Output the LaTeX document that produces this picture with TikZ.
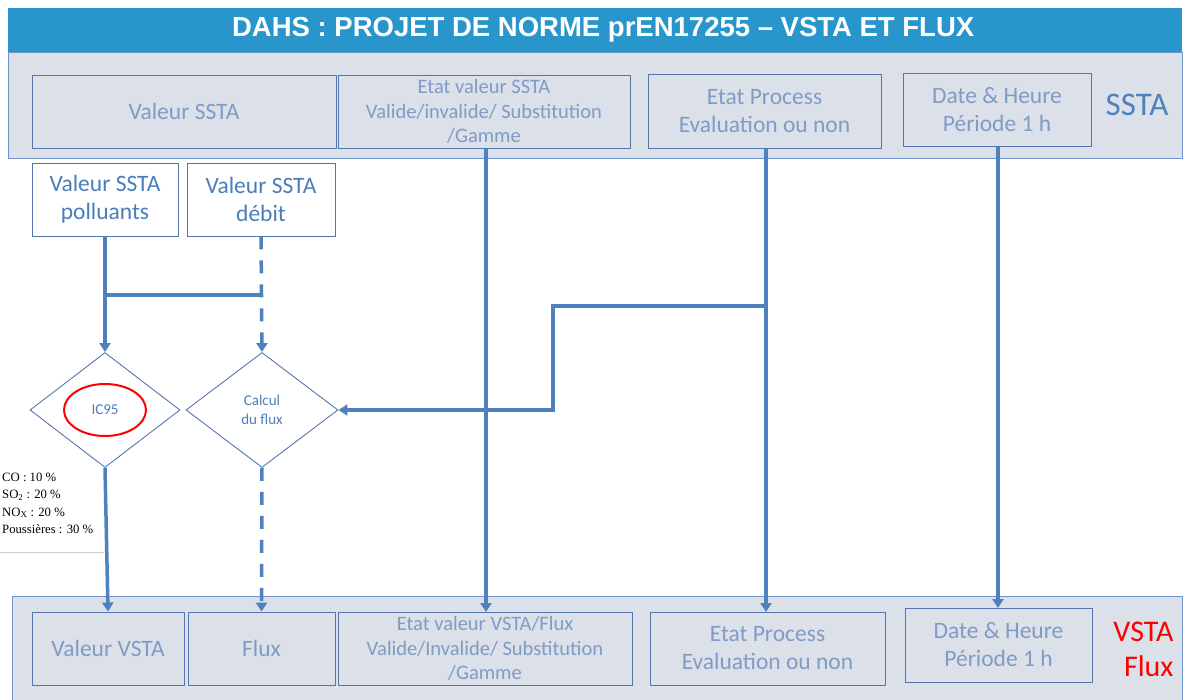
\documentclass[tikz,border=0pt]{standalone}
\usepackage{fontspec}
\setmainfont{Carlito}
\newfontfamily\titlefont{Liberation Sans}
\newfontfamily\serifnote{Liberation Serif}
\usetikzlibrary{shapes.geometric,arrows.meta}
\definecolor{titlebg}{HTML}{2895CB}
\definecolor{panelbg}{HTML}{DCE0E8}
\definecolor{panelline}{HTML}{6F93C7}
\definecolor{boxline}{HTML}{5576AC}
\definecolor{graytext}{HTML}{7F9BC6}
\definecolor{bluetext}{HTML}{4A7EBB}
\definecolor{flow}{HTML}{4F81BD}
\definecolor{sstacol}{HTML}{4F81BD}
\tikzset{
  panel/.style={draw=panelline, fill=panelbg, line width=1pt},
  graybox/.style={draw=boxline, line width=0.9pt, fill=panelbg, text=graytext, align=center, inner sep=0pt, font=\fontsize{23.5}{28}\selectfont},
  whitebox/.style={draw=boxline, line width=0.9pt, fill=white, text=bluetext, align=center, inner sep=0pt, font=\fontsize{23.5}{28}\selectfont},
  dia/.style={draw=boxline, line width=0.9pt, shape=diamond, inner sep=0pt, text=bluetext, align=center},
  flowline/.style={draw=flow, line width=3.5pt},
  arr/.style={-{Triangle[width=11pt,length=9pt]}},
  dashflow/.style={flowline, dash pattern=on 13pt off 11pt},
}
\begin{document}
\begin{tikzpicture}[x=1pt,y=-1pt]
\useasboundingbox (0,0) rectangle (1184,700);
% title bar
\node[fill=titlebg, minimum width=1174pt, minimum height=44pt, inner sep=0pt, anchor=north west, text=white,
  font=\titlefont\bfseries\fontsize{27.5}{30}\selectfont] (title) at (8,8) {\hspace*{16pt}DAHS : PROJET DE NORME prEN17255 – VSTA ET FLUX};
% top panel
\node[panel, minimum width=1174pt, minimum height=106pt, inner sep=0pt, anchor=north west] (toppanel) at (8,52) {};
\node[graybox, minimum width=304pt, minimum height=73pt] (vs) at (184,111.5) {Valeur SSTA};
\node[graybox, minimum width=292pt, minimum height=73pt, font=\fontsize{20.5}{24.5}\selectfont] (es) at (484,111.5) {Etat valeur SSTA\\Valide/invalide/ Substitution\\/Gamme};
\node[graybox, minimum width=233pt, minimum height=74pt] (ep) at (764.5,111) {Etat Process\\Evaluation ou non};
\node[graybox, minimum width=188pt, minimum height=73pt] (dh) at (997,109.5) {Date \& Heure\\Période 1 h};
\node[text=sstacol, font=\fontsize{33}{36}\selectfont] (sstalbl) at (1137,105) {SSTA};
% bottom panel
\node[panel, minimum width=1170pt, minimum height=106pt, inner sep=0pt, anchor=north west] (botpanel) at (12,596) {};
\node[graybox, minimum width=152pt, minimum height=73pt] (vv) at (108,648.5) {Valeur VSTA};
\node[graybox, minimum width=147pt, minimum height=73pt] (fx) at (261.5,648.5) {Flux};
\node[graybox, minimum width=294pt, minimum height=73pt, font=\fontsize{20.5}{24.5}\selectfont] (ev) at (485,648.5) {Etat valeur VSTA/Flux\\Valide/Invalide/ Substitution\\/Gamme};
\node[graybox, minimum width=235pt, minimum height=73pt] (ep2) at (767.5,648.5) {Etat Process\\Evaluation ou non};
\node[graybox, minimum width=187pt, minimum height=74pt] (dh2) at (998.5,645) {Date \& Heure\\Période 1 h};
\node[text=red, font=\fontsize{30}{35}\selectfont, align=right, anchor=east] (vstalbl) at (1177,649) {VSTA\\Flux};
% input boxes
\node[whitebox, minimum width=146pt, minimum height=73pt] (pol) at (105,199.5) {Valeur SSTA\\polluants};
\node[whitebox, minimum width=148pt, minimum height=73pt] (deb) at (261,199.5) {Valeur SSTA\\débit};
% diamonds
\node[dia, minimum width=150pt, minimum height=115pt, font=\fontsize{15}{18}\selectfont] (ic) at (105,410) {IC95};
\node[draw=red, line width=2pt, ellipse, minimum width=82pt, minimum height=52pt] (ell) at (105,410) {};
\node[dia, minimum width=152pt, minimum height=115pt, font=\fontsize{15}{19.5}\selectfont] (calc) at (262,410) {Calcul\\du flux};
% note
\node[anchor=north west, inner sep=0pt, align=left, font=\serifnote\fontsize{12.7}{17.2}\selectfont] (note) at (2,473)
  {CO : 10 \%\\SO\textsubscript{2} : 20 \%\\NO\textsubscript{X} : 20 \%\\Poussières : 30 \%};
\coordinate (nl1) at (0,552);
\coordinate (nl2) at (104,552);
\draw[black!20, line width=0.6pt] (nl1) -- (nl2);
% junction coordinates
\coordinate (jp) at (105,295);
\coordinate (jd) at (262,295);
\coordinate (je) at (766,306);
\coordinate (jc1) at (553,306);
\coordinate (jc2) at (553,410);
\coordinate (es1) at (486,148);
\coordinate (ev1) at (486,612);
\coordinate (ep1) at (766,148);
\coordinate (ep21) at (766,612);
\coordinate (dh1) at (998,146);
\coordinate (dh21) at (998,608);
% connectors
\draw[flowline, arr] (pol.south) -- (ic.north);
\draw[flowline] (jp) -- (jd);
\draw[dashflow, arr] (deb.south) -- (calc.north);
\draw[flowline, arr] (ic.south) -- (vv.north);
\draw[dashflow, arr] (calc.south) -- (fx.north);
\draw[flowline, arr] (es1) -- (ev1);
\draw[flowline, arr] (ep1) -- (ep21);
\draw[flowline, arr] (dh1) -- (dh21);
\draw[flowline, arr] (je) -- (jc1) -- (jc2) -- (calc.east);
\end{tikzpicture}
\end{document}
